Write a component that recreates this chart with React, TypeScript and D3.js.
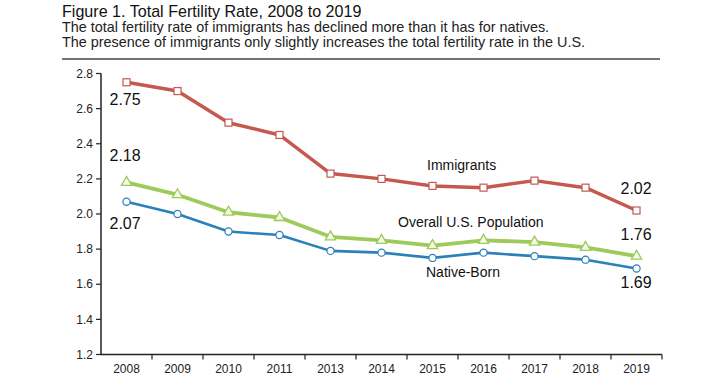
import React from "react";
import * as d3 from "d3";

const years = ["2008", "2009", "2010", "2011", "2013", "2014", "2015", "2016", "2017", "2018", "2019"];
const immigrants = [2.75, 2.7, 2.52, 2.45, 2.23, 2.2, 2.16, 2.15, 2.19, 2.15, 2.02];
const overall = [2.18, 2.11, 2.01, 1.98, 1.87, 1.85, 1.82, 1.85, 1.84, 1.81, 1.76];
const native = [2.07, 2.0, 1.9, 1.88, 1.79, 1.78, 1.75, 1.78, 1.76, 1.74, 1.69];
const yTicks = [1.2, 1.4, 1.6, 1.8, 2.0, 2.2, 2.4, 2.6, 2.8];

const W = 720;
const H = 378;
const FONT = "'Liberation Sans', Arial, Helvetica, sans-serif";
const RED = "#c5584f";
const GREEN = "#9dcb5b";
const BLUE = "#2b80b9";
const AXIS = "#222";

export default function App() {
  const left = 101;
  const right = 662;
  const top = 73.5;
  const bottom = 354.5;
  const x = d3.scaleBand<string>().domain(years).range([left, right]).padding(0);
  const y = d3.scaleLinear().domain([1.2, 2.8]).range([bottom, top]);
  const cx = (i: number) => (x(years[i]) as number) + x.bandwidth() / 2;
  const line = d3
    .line<number>()
    .x((_, i) => cx(i))
    .y((d) => y(d));
  const last = years.length - 1;
  const tri = d3.symbol().type(d3.symbolTriangle).size(46)();

  return (
    <svg
      width={W}
      height={H}
      style={{ position: "absolute", left: 0, top: 0, background: "#fff" }}
      fontFamily={FONT}
    >
      <rect width={W} height={H} fill="#fff" />
      <text x={62} y={17} fontSize={16.1} fill="#111">
        Figure 1. Total Fertility Rate, 2008 to 2019
      </text>
      <text x={62} y={32} fontSize={14.4} fill="#222">
        The total fertility rate of immigrants has declined more than it has for natives.
      </text>
      <text x={62} y={47} fontSize={14.4} fill="#222">
        The presence of immigrants only slightly increases the total fertility rate in the U.S.
      </text>
      <line x1={62} x2={660} y1={59} y2={59} stroke="#444" strokeWidth={1.5} />

      {/* y axis */}
      <line x1={left} x2={left} y1={top} y2={bottom} stroke={AXIS} strokeWidth={1.5} />
      {yTicks.map((t) => (
        <g key={t}>
          <line x1={left - 5} x2={left} y1={y(t)} y2={y(t)} stroke={AXIS} strokeWidth={1.2} />
          <text x={left - 8} y={y(t)} dy="0.35em" textAnchor="end" fontSize={12} fill="#222">
            {t.toFixed(1)}
          </text>
        </g>
      ))}
      {/* x axis */}
      <line x1={left} x2={right} y1={bottom} y2={bottom} stroke={AXIS} strokeWidth={1.5} />
      {years.map((yr, i) => (
        <g key={yr}>
          <line
            x1={(x(yr) as number) + x.bandwidth()}
            x2={(x(yr) as number) + x.bandwidth()}
            y1={bottom}
            y2={bottom + 5}
            stroke={AXIS}
            strokeWidth={1.2}
          />
          <text x={cx(i)} y={bottom + 18} textAnchor="middle" fontSize={12} fill="#222">
            {yr}
          </text>
        </g>
      ))}

      {/* lines */}
      <path d={line(immigrants) || ""} fill="none" stroke={RED} strokeWidth={3.5} strokeLinejoin="round" />
      <path d={line(overall) || ""} fill="none" stroke={GREEN} strokeWidth={3.8} strokeLinejoin="round" />
      <path d={line(native) || ""} fill="none" stroke={BLUE} strokeWidth={2.6} strokeLinejoin="round" />

      {immigrants.map((v, i) => (
        <rect key={"r" + i} x={cx(i) - 3.5} y={y(v) - 3.5} width={7} height={7} fill="#fff" stroke={RED} strokeWidth={1.2} />
      ))}
      {overall.map((v, i) => (
        <path key={"t" + i} d={tri || ""} transform={`translate(${cx(i)},${y(v)})`} fill="#f4f8e6" stroke={GREEN} strokeWidth={1.3} />
      ))}
      {native.map((v, i) => (
        <circle key={"c" + i} cx={cx(i)} cy={y(v)} r={3.6} fill="#fff" stroke={BLUE} strokeWidth={1.2} />
      ))}

      {/* annotations */}
      <g fontSize={16} fill="#111">
        <text x={cx(0) - 17} y={y(immigrants[0]) + 23}>{immigrants[0].toFixed(2)}</text>
        <text x={cx(0) - 17} y={y(overall[0]) - 21}>{overall[0].toFixed(2)}</text>
        <text x={cx(0) - 17} y={y(native[0]) + 27}>{native[0].toFixed(2)}</text>
        <text x={cx(last) - 16} y={y(immigrants[last]) - 16}>{immigrants[last].toFixed(2)}</text>
        <text x={cx(last) - 16} y={y(overall[last]) - 16}>{overall[last].toFixed(2)}</text>
        <text x={cx(last) - 16} y={y(native[last]) + 20}>{native[last].toFixed(2)}</text>
      </g>
      <g fontSize={14} fill="#111">
        <text x={427} y={170}>Immigrants</text>
        <text x={398} y={226.5}>Overall U.S. Population</text>
        <text x={426} y={276.5}>Native-Born</text>
      </g>
    </svg>
  );
}
